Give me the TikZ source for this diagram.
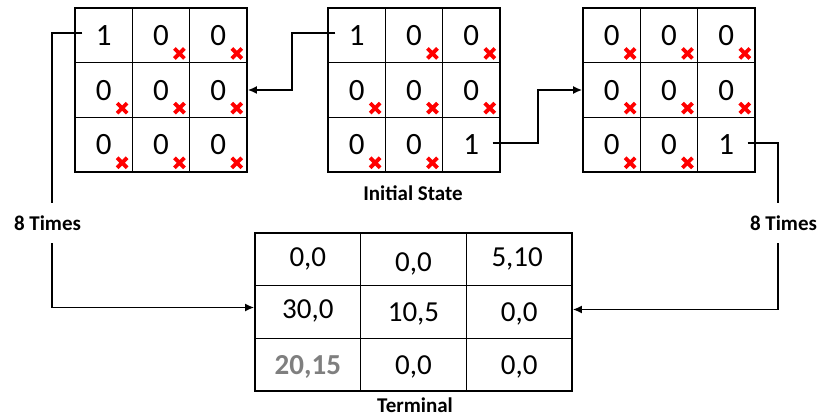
\documentclass[tikz,border=0pt]{standalone}
\usepackage{fontspec}
\setmainfont{Carlito}
\usetikzlibrary{arrows.meta,calc}
\definecolor{crossred}{RGB}{255,0,0}
\definecolor{softgray}{RGB}{127,127,127}
\tikzset{
  cell/.style={draw, line width=1.6pt, inner sep=0pt, minimum width=57.33pt, minimum height=54.67pt},
  tcell/.style={draw, line width=1.6pt, inner sep=0pt, minimum width=105.67pt, minimum height=52.67pt},
  digit/.style={font=\fontsize{31}{31}\selectfont, inner sep=0pt, text depth=0pt},
  one/.style={digit, minimum width=42pt},
  pair/.style={font=\fontsize{29}{29}\selectfont, inner sep=0pt, text depth=0pt},
  caption/.style={font=\bfseries\fontsize{21}{21}\selectfont, inner sep=0pt, text depth=0pt},
  link/.style={line width=1.7pt, -{Latex[length=9pt,width=8pt]}},
  plain link/.style={line width=1.7pt},
  nope/.style={draw=crossred, line width=3.8pt}
}
\begin{document}
\begin{tikzpicture}[x=1pt, y=-1pt]
\useasboundingbox (0,0) rectangle (820,417);

% three 3x3 state grids
\foreach \g/\xo in {L/75, M/328, R/583}{
  \foreach \r in {1,2,3}{
    \foreach \c in {1,2,3}{
      \node[cell] (\g\r\c) at ({\xo+(\c-0.5)*57.333},{8+(\r-0.5)*54.667}) {};
    }
  }
}

% zero entries, each struck out
\foreach \n in {L12,L13,L21,L22,L23,L31,L32,L33,
                M12,M13,M21,M22,M23,M31,M32,
                R11,R12,R13,R21,R22,R23,R31,R32}{
  \node[digit] (\n-v) at (\n) {0};
  \coordinate (\n-x) at ($(\n.south east)+(-11,-10)$);
  \draw[nope] ([shift={(-5,-5)}]\n-x) -- ([shift={(5,5)}]\n-x)
              ([shift={(-5,5)}]\n-x) -- ([shift={(5,-5)}]\n-x);
}

% active entries
\node[one] (oneL)  at (L11) {1};
\node[one] (oneMa) at (M11) {1};
\node[one] (oneMb) at (M33) {1};
\node[one] (oneR)  at (R33) {1};

\node[caption] (init) at (413,193) {Initial State};

% terminal reward grid
\foreach \r in {1,2,3}{
  \foreach \c in {1,2,3}{
    \node[tcell] (T\r\c) at ({255+(\c-0.5)*105.667},{233+(\r-0.5)*52.667}) {};
  }
}
\node[pair] (T11-v) at ([yshift=2pt]T11) {0,0};
\node[pair] (T12-v) at ([yshift=-3pt]T12) {0,0};
\node[pair] (T13-v) at ([xshift=-2pt,yshift=2pt]T13) {5,10};
\node[pair] (T21-v) at ([yshift=2.5pt]T21) {30,0};
\node[pair] (T22-v) at (T22) {10,5};
\node[pair] (T23-v) at (T23) {0,0};
\node[pair, font=\bfseries\fontsize{29}{29}\selectfont, text=softgray] (T31-v) at (T31) {20,15};
\node[pair] (T32-v) at (T32) {0,0};
\node[pair] (T33-v) at (T33) {0,0};

\node[caption] (term) at (415,405) {Terminal};

% repetition labels on the outer loops
\node[caption, minimum height=40pt] (timesL) at (47.5,223) {8 Times};
\node[caption, minimum height=40pt] (timesR) at (783.5,223) {8 Times};

% routing columns
\coordinate (xL) at (52,0);
\coordinate (xA) at (292,0);
\coordinate (xB) at (538,0);
\coordinate (xR) at (778,0);

% connectors
\draw[link] ([yshift=2pt]oneMa.west) -| (xA |- L23.east) -- (L23.east);
\draw[link] ([yshift=1.5pt]oneMb.east) -| (xB |- R21.west) -- (R21.west);
\draw[plain link] ([yshift=2pt]oneL.west) -| (timesL.north -| xL);
\draw[link] (timesL.south -| xL) |- ([yshift=4.5pt]T21.west);
\draw[plain link] ([yshift=1.5pt]oneR.east) -| (timesR.north -| xR);
\draw[link] (timesR.south -| xR) |- ([yshift=2.5pt]T23.east);
\end{tikzpicture}
\end{document}
